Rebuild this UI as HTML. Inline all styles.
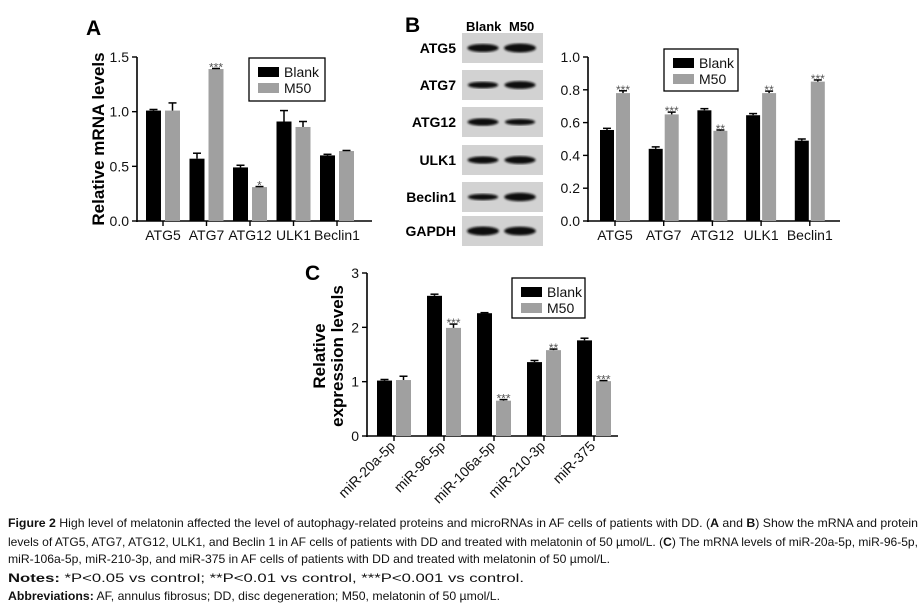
<!DOCTYPE html>
<html><head><meta charset="utf-8"><style>
html,body{margin:0;padding:0;background:#fff;}
svg{display:block;font-family:"Liberation Sans",sans-serif;}
</style></head><body>
<svg id="fig" width="922" height="612" viewBox="0 0 922 612">
<g id="pa"></g>
<g id="pb"></g>
<g id="pblot"></g>
<g id="pc"></g>
<g id="cap" font-family="'Liberation Sans Narrow','Liberation Sans',sans-serif" font-size="12" fill="#111">
<text x="8" y="527" textLength="910" lengthAdjust="spacingAndGlyphs"><tspan font-weight="bold">Figure 2</tspan> High level of melatonin affected the level of autophagy-related proteins and microRNAs in AF cells of patients with DD. (<tspan font-weight="bold">A</tspan> and <tspan font-weight="bold">B</tspan>) Show the mRNA and protein</text>
<text x="8" y="546" textLength="910" lengthAdjust="spacingAndGlyphs">levels of ATG5, ATG7, ATG12, ULK1, and Beclin 1 in AF cells of patients with DD and treated with melatonin of 50 µmol/L. (<tspan font-weight="bold">C</tspan>) The mRNA levels of miR-20a-5p, miR-96-5p,</text>
<text x="8" y="563" textLength="602" lengthAdjust="spacingAndGlyphs">miR-106a-5p, miR-210-3p, and miR-375 in AF cells of patients with DD and treated with melatonin of 50 µmol/L.</text>
<text x="8" y="582" textLength="516" lengthAdjust="spacingAndGlyphs"><tspan font-weight="bold">Notes:</tspan> *P&lt;0.05 vs control; **P&lt;0.01 vs control, ***P&lt;0.001 vs control.</text>
<text x="8" y="600" textLength="492" lengthAdjust="spacingAndGlyphs"><tspan font-weight="bold">Abbreviations:</tspan> AF, annulus fibrosus; DD, disc degeneration; M50, melatonin of 50 µmol/L.</text>
</g>
</svg>
<script>
const NS="http://www.w3.org/2000/svg";
// Panel A data
const aCats=["ATG5","ATG7","ATG12","ULK1","Beclin1"];
const aBlank=[1.01,0.57,0.49,0.91,0.60];
const aBlankErr=[0.01,0.05,0.02,0.10,0.01];
const aM50=[1.01,1.39,0.31,0.86,0.64];
const aM50Err=[0.07,0.005,0.005,0.05,0.005];
const aStars=["","***","*","",""];
const aTicks=["0.0","0.5","1.0","1.5"];
// Panel B data
const bCats=["ATG5","ATG7","ATG12","ULK1","Beclin1"];
const bBlank=[0.555,0.44,0.675,0.645,0.49];
const bBlankErr=[0.01,0.012,0.01,0.01,0.01];
const bM50=[0.78,0.65,0.55,0.78,0.85];
const bM50Err=[0.014,0.014,0.005,0.012,0.01];
const bStars=["***","***","**","**","***"];
const bTicks=["0.0","0.2","0.4","0.6","0.8","1.0"];
// Panel C data
const cCats=["miR-20a-5p","miR-96-5p","miR-106a-5p","miR-210-3p","miR-375"];
const cBlank=[1.02,2.58,2.26,1.36,1.76];
const cBlankErr=[0.02,0.03,0.01,0.03,0.04];
const cM50=[1.03,1.99,0.65,1.58,1.01];
const cM50Err=[0.07,0.07,0.02,0.02,0.01];
const cStars=["","***","***","**","***"];
const cTicks=["0","1","2","3"];
// Blot
const blotLabels=["ATG5","ATG7","ATG12","ULK1","Beclin1","GAPDH"];
const blotBlank=[0.85,0.6,0.75,0.7,0.55,1.0];
const blotM50=[1.0,0.8,0.55,0.8,0.9,0.95];

function mk(parent,tag,attrs,text){const e=document.createElementNS(NS,tag);for(const k in attrs)e.setAttribute(k,attrs[k]);if(text!==undefined)e.textContent=text;parent.appendChild(e);return e;}

function chart(g,cfg){
  const y=v=>cfg.y0-(v/cfg.ymax)*(cfg.y0-cfg.y1);
  const x=i=>cfg.c0+i*cfg.step;
  let ax=mk(g,"line",{x1:cfg.ax,y1:cfg.y1,x2:cfg.ax,y2:cfg.y0+1,stroke:"#000","stroke-width":1.6});
  
  
  let bx=mk(g,"line",{x1:cfg.ax-1,y1:cfg.y0,x2:cfg.xend,y2:cfg.y0,stroke:"#000","stroke-width":1.6});
  
  
  cfg.ticks.forEach(t=>{
    const yy=y(parseFloat(t));
    mk(g,"line",{x1:cfg.ax-5,y1:yy,x2:cfg.ax,y2:yy,stroke:"#000","stroke-width":1.4});
    const tl=mk(g,"text",{x:cfg.ax-8,y:yy+5,"text-anchor":"end","font-size":14,fill:"#111"},t);
    
    
  });
  cfg.cats.forEach((c,i)=>{
    const cx=x(i);
    mk(g,"line",{x1:cx,y1:cfg.y0,x2:cx,y2:cfg.y0+5,stroke:"#000","stroke-width":1.4});
    let lab;
    if(cfg.rot){
      lab=mk(g,"text",{x:cx+2,y:cfg.y0+11,"text-anchor":"end","font-size":14,fill:"#111",transform:`rotate(-45 ${cx+2} ${cfg.y0+11})`},c);
    } else {
      lab=mk(g,"text",{x:cx,y:cfg.y0+19,"text-anchor":"middle","font-size":14,fill:"#111"},c);
    }
    
    
    [[cfg.blank,cfg.blankErr,"#000",-1],[cfg.m50,cfg.m50Err,"#a0a0a0",1]].forEach(([vals,errs,col,s])=>{
      const v=vals[i],e=errs[i];
      const bx0=s<0?cx-cfg.gap/2-cfg.bw:cx+cfg.gap/2;
      const r=mk(g,"rect",{x:bx0,y:y(v),width:cfg.bw,height:cfg.y0-y(v),fill:col});
      
      
      const mx=bx0+cfg.bw/2, ye=y(v+e);
      mk(g,"line",{x1:mx,y1:y(v),x2:mx,y2:ye,stroke:"#000","stroke-width":1.5});
      mk(g,"line",{x1:mx-4,y1:ye,x2:mx+4,y2:ye,stroke:"#000","stroke-width":1.5});
      if(s>0&&cfg.stars[i]){
        const st=mk(g,"text",{x:mx,y:ye+3,"text-anchor":"middle","font-size":12,fill:"#555"},cfg.stars[i]);
        
        
      }
    });
  });
  const L=cfg.leg;
  const lg=mk(g,"g",{});
  
  
  mk(lg,"rect",{x:L[0],y:L[1],width:L[2],height:L[3],fill:"#fff",stroke:"#000","stroke-width":1.3});
  mk(lg,"rect",{x:L[0]+9,y:L[1]+9,width:21,height:10,fill:"#000"});
  mk(lg,"rect",{x:L[0]+9,y:L[1]+25,width:21,height:10,fill:"#a0a0a0"});
  const t1=mk(lg,"text",{x:L[0]+35,y:L[1]+19,"font-size":14,fill:"#111"},"Blank");
  
  
  const t2=mk(lg,"text",{x:L[0]+35,y:L[1]+35,"font-size":14,fill:"#111"},"M50");
  
  
}

const pa=document.getElementById("pa");
chart(pa,{cats:aCats,blank:aBlank,blankErr:aBlankErr,m50:aM50,m50Err:aM50Err,stars:aStars,ticks:aTicks,ymax:1.5,y0:221,y1:57,ax:137,xend:372,c0:163,step:43.5,bw:15,gap:4,leg:[249,58,76,43]});
let t=mk(pa,"text",{x:86,y:35,"font-size":21,"font-weight":"bold"},"A");

t=mk(pa,"text",{x:104,y:139,"font-size":17,"font-weight":"bold","text-anchor":"middle",transform:"rotate(-90 104 139)"},"Relative mRNA levels");


const pb=document.getElementById("pb");
chart(pb,{cats:bCats,blank:bBlank,blankErr:bBlankErr,m50:bM50,m50Err:bM50Err,stars:bStars,ticks:bTicks,ymax:1.0,y0:221,y1:57,ax:588,xend:840,c0:615,step:48.7,bw:14,gap:2,leg:[664,49,74,42]});

const pbl=document.getElementById("pblot");
t=mk(pbl,"text",{x:405,y:32,"font-size":21,"font-weight":"bold"},"B");

t=mk(pbl,"text",{x:466,y:31,"font-size":13,"font-weight":"bold"},"Blank");

t=mk(pbl,"text",{x:509,y:31,"font-size":13,"font-weight":"bold"},"M50");

const tops=[33,70,107,145,182,216];
const defs=mk(pbl,"defs",{});
const flt=mk(defs,"filter",{id:"bl"});mk(flt,"feGaussianBlur",{stdDeviation:1.1});
blotLabels.forEach((lab,i)=>{
  const top=tops[i];
  const s=mk(pbl,"rect",{x:462,y:top,width:81,height:30,fill:"#d2d2d2"});
  
  
  [[483,blotBlank[i]],[520,blotM50[i]]].forEach(([cx,v])=>{
    const b=mk(pbl,"ellipse",{cx:cx,cy:top+15,rx:14+2*v,ry:1.5+3*v,fill:"#111",filter:"url(#bl)"});
    
    
  });
  const l=mk(pbl,"text",{x:456,y:top+20,"font-size":14,"font-weight":"bold","text-anchor":"end"},lab);
  
  
});

const pc=document.getElementById("pc");
chart(pc,{cats:cCats,blank:cBlank,blankErr:cBlankErr,m50:cM50,m50Err:cM50Err,stars:cStars,ticks:cTicks,ymax:3,y0:436,y1:273,ax:367,xend:618,c0:394,step:50,bw:15,gap:4,leg:[512,278,73,40],rot:true});
t=mk(pc,"text",{x:305,y:280,"font-size":21,"font-weight":"bold"},"C");

t=mk(pc,"text",{x:325,y:356,"font-size":17,"font-weight":"bold","text-anchor":"middle",transform:"rotate(-90 325 356)"},"Relative");

t=mk(pc,"text",{x:343,y:356,"font-size":17,"font-weight":"bold","text-anchor":"middle",transform:"rotate(-90 343 356)"},"expression levels");

</script>
</body></html>
